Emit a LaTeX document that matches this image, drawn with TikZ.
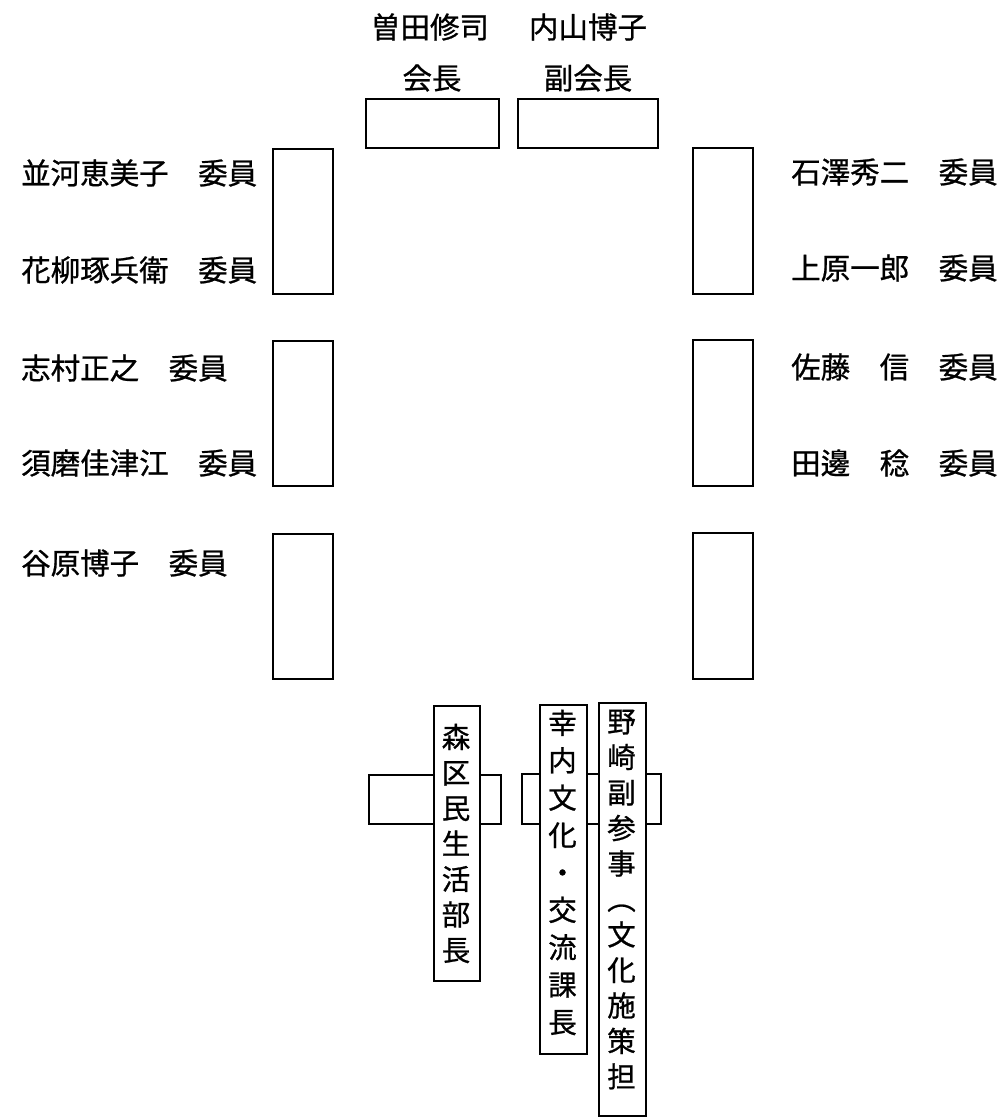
\documentclass[tikz,border=0pt]{standalone}
\usepackage{fontspec}
\setmainfont{Noto Sans CJK JP}[FakeBold=0.8]
\begin{document}
\begin{tikzpicture}[x=1pt,y=-1pt,
  seat/.style={draw, line width=1.8pt, fill=white, inner sep=0pt, anchor=north west},
  lbl/.style={inner sep=0pt, font=\fontsize{29.5}{34}\selectfont},
  vlbl/.style={inner sep=0pt, align=center},
]
\useasboundingbox (0,0) rectangle (1005,1118);
\fill[white] (0,0) rectangle (1005,1118);

% top table
\node[seat, minimum width=133pt, minimum height=49pt] (top1) at (365,98) {};
\node[seat, minimum width=140pt, minimum height=49pt] (top2) at (517,98) {};
\node[lbl] (n1) at (430,27) {曽田修司};
\node[lbl] (n2) at (588,27) {内山博子};
\node[lbl] (t1) at (432,78) {会長};
\node[lbl] (t2) at (588,78) {副会長};

% left tables
\node[seat, minimum width=60pt, minimum height=145pt] (L1) at (272,148) {};
\node[seat, minimum width=60pt, minimum height=145pt] (L2) at (272,340) {};
\node[seat, minimum width=60pt, minimum height=145pt] (L3) at (272,533) {};
\node[lbl, anchor=west] (l1) at (21,173) {並河恵美子　委員};
\node[lbl, anchor=west] (l2) at (21,270) {花柳琢兵衛　委員};
\node[lbl, anchor=west] (l3) at (21,368) {志村正之　委員};
\node[lbl, anchor=west] (l4) at (21,463) {須磨佳津江　委員};
\node[lbl, anchor=west] (l5) at (21,563) {谷原博子　委員};

% right tables
\node[seat, minimum width=60pt, minimum height=146pt] (R1) at (692,147) {};
\node[seat, minimum width=60pt, minimum height=146pt] (R2) at (692,339) {};
\node[seat, minimum width=60pt, minimum height=146pt] (R3) at (692,532) {};
\node[lbl, anchor=west] (r1) at (791,172) {石澤秀二　委員};
\node[lbl, anchor=west] (r2) at (791,268) {上原一郎　委員};
\node[lbl, anchor=west] (r3) at (791,367) {佐藤　信　委員};
\node[lbl, anchor=west] (r4) at (791,463) {田邊　稔　委員};

% bottom tables
\node[seat, minimum width=132pt, minimum height=49pt] (H1) at (368,774) {};
\node[seat, minimum width=139pt, minimum height=50pt] (H2) at (521,773) {};
\node[seat, minimum width=46pt, minimum height=275pt] (V1) at (433,705) {};
\node[seat, minimum width=47pt, minimum height=349pt] (V2) at (539,704) {};
\node[seat, minimum width=47pt, minimum height=413pt] (V3) at (598,702) {};
\node[vlbl, font=\fontsize{28.5}{35.5}\selectfont] (v1) at (456,843.5) {森\\区\\民\\生\\活\\部\\長};
\node[vlbl, font=\fontsize{28.5}{37.4}\selectfont] (v2) at (562.5,872.5) {幸\\内\\文\\化\\・\\交\\流\\課\\長};
\node[vlbl, font=\fontsize{28.5}{35.5}\selectfont] (v3) at (621.5,899.5) {野\\崎\\副\\参\\事\\︵\\文\\化\\施\\策\\担};
\end{tikzpicture}
\end{document}
